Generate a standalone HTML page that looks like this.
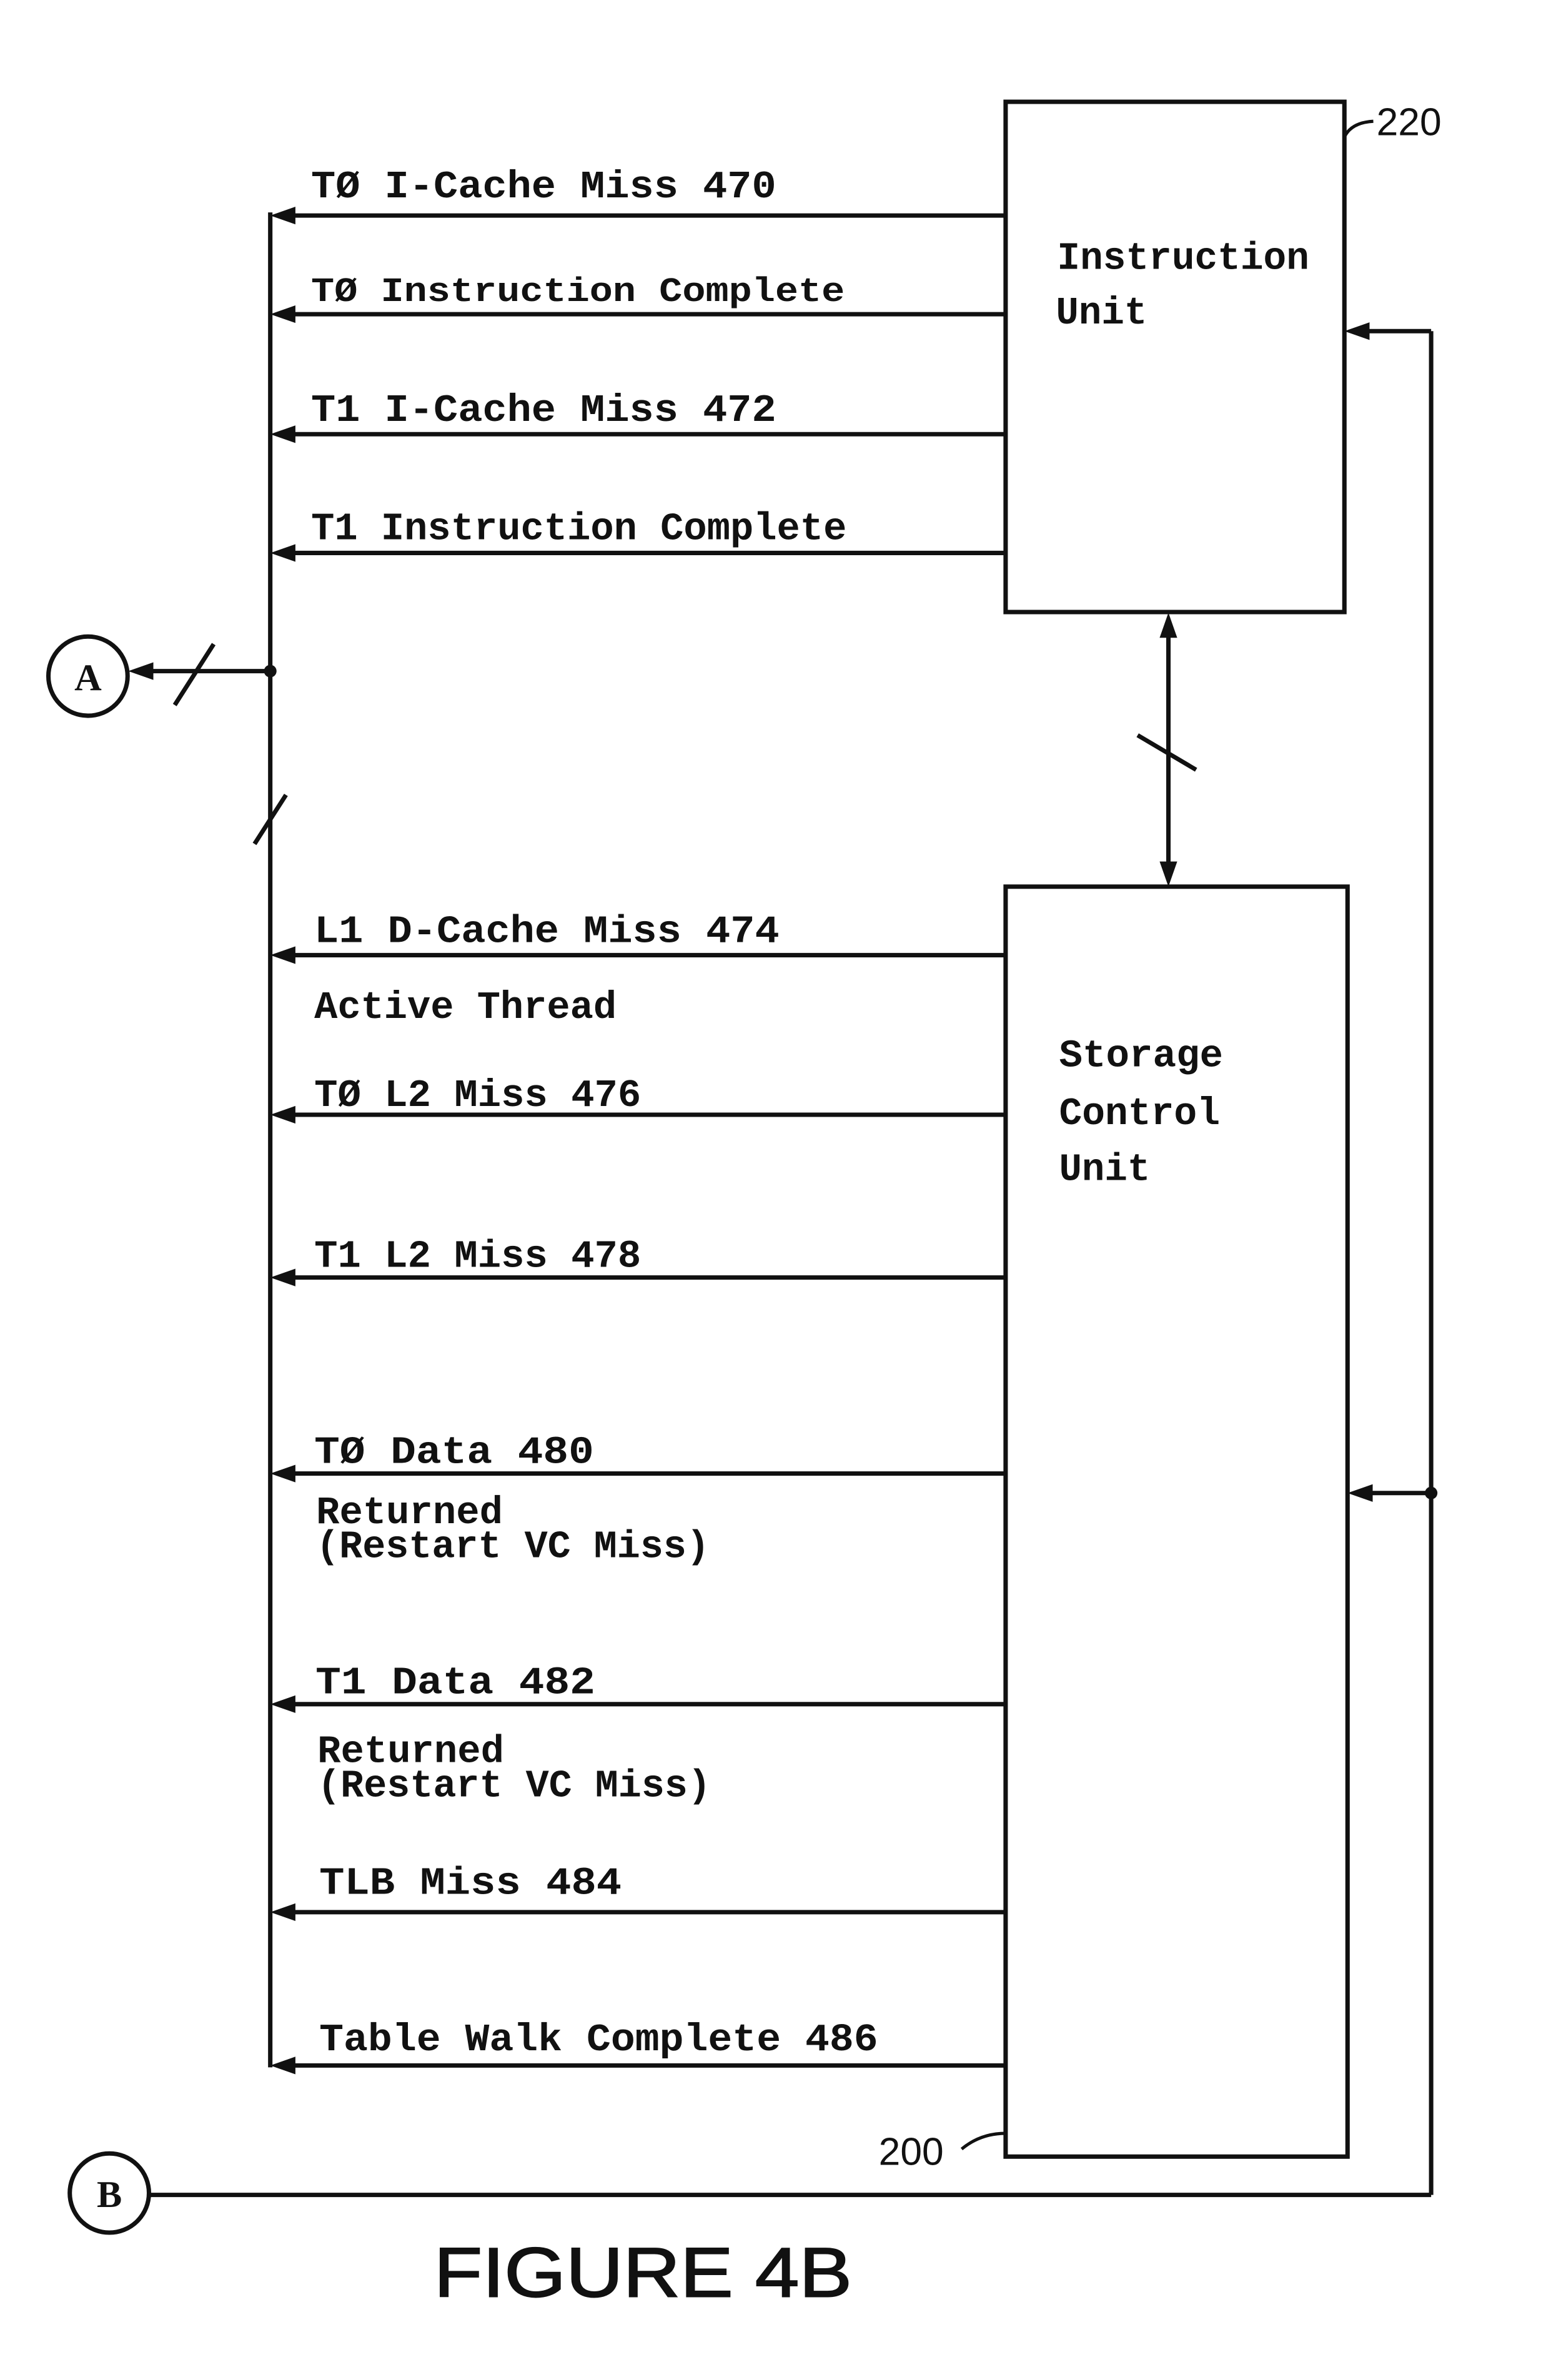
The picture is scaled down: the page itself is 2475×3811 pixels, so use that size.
<!DOCTYPE html>
<html><head><meta charset="utf-8"><style>
html,body{margin:0;padding:0;background:#fff}
svg{display:block}
text{font-family:"Liberation Mono",monospace;font-weight:bold;fill:#111}
</style></head><body>
<svg width="2475" height="3811" viewBox="0 0 2475 3811" xmlns="http://www.w3.org/2000/svg">
<g transform="scale(1.0062)">
<g stroke="#111" stroke-width="7" fill="none">
<rect x="1600" y="162" width="539" height="812"/>
<rect x="1600" y="1411" width="544" height="2021"/>
<line x1="430" y1="338" x2="430" y2="3290"/>
<line x1="468" y1="343" x2="1600" y2="343"/>
<line x1="468" y1="500" x2="1600" y2="500"/>
<line x1="468" y1="691" x2="1600" y2="691"/>
<line x1="468" y1="880" x2="1600" y2="880"/>
<line x1="468" y1="1520" x2="1600" y2="1520"/>
<line x1="468" y1="1774" x2="1600" y2="1774"/>
<line x1="468" y1="2033" x2="1600" y2="2033"/>
<line x1="468" y1="2345" x2="1600" y2="2345"/>
<line x1="468" y1="2712" x2="1600" y2="2712"/>
<line x1="468" y1="3043" x2="1600" y2="3043"/>
<line x1="468" y1="3287" x2="1600" y2="3287"/>
<circle cx="140" cy="1076" r="63"/>
<circle cx="174" cy="3490" r="63"/>
<line x1="240" y1="1068" x2="430" y2="1068"/>
<line x1="278" y1="1122" x2="340" y2="1025"/>
<line x1="405" y1="1343" x2="455" y2="1265"/>
<line x1="1859" y1="1010" x2="1859" y2="1375"/>
<line x1="1810" y1="1170" x2="1903" y2="1225"/>
<line x1="2177" y1="527" x2="2277" y2="527"/>
<line x1="2277" y1="527" x2="2277" y2="3493"/>
<line x1="2182" y1="2376" x2="2277" y2="2376"/>
<line x1="237" y1="3493" x2="2277" y2="3493"/>
<path d="M2139 218 Q2150 195 2185 193" stroke-width="5"/>
<path d="M1530 3420 Q1560 3395 1600 3395" stroke-width="5"/>
</g>
<g fill="#111">
<polygon points="430,343 470,329 470,357"/>
<polygon points="430,500 470,486 470,514"/>
<polygon points="430,691 470,677 470,705"/>
<polygon points="430,880 470,866 470,894"/>
<polygon points="430,1520 470,1506 470,1534"/>
<polygon points="430,1774 470,1760 470,1788"/>
<polygon points="430,2033 470,2019 470,2047"/>
<polygon points="430,2345 470,2331 470,2359"/>
<polygon points="430,2712 470,2698 470,2726"/>
<polygon points="430,3043 470,3029 470,3057"/>
<polygon points="430,3287 470,3273 470,3301"/>
<polygon points="204,1068 244,1054 244,1082"/>
<circle cx="430" cy="1068" r="10"/>
<polygon points="1859,975 1845,1015 1873,1015"/>
<polygon points="1859,1411 1845,1371 1873,1371"/>
<polygon points="2139,527 2179,513 2179,541"/>
<polygon points="2144,2376 2184,2362 2184,2390"/>
<circle cx="2277" cy="2376" r="10"/>
</g>
<g font-size="62">
<text x="495" y="314" textLength="740" lengthAdjust="spacingAndGlyphs">TØ I-Cache Miss  470</text>
<text x="495" y="479" font-size="54" textLength="849" lengthAdjust="spacingAndGlyphs">TØ Instruction Complete</text>
<text x="495" y="670" textLength="740" lengthAdjust="spacingAndGlyphs">T1 I-Cache Miss  472</text>
<text x="495" y="858" textLength="852" lengthAdjust="spacingAndGlyphs">T1 Instruction Complete</text>
<text x="500" y="1499" textLength="740" lengthAdjust="spacingAndGlyphs">L1 D-Cache Miss  474</text>
<text x="500" y="1620" textLength="481" lengthAdjust="spacingAndGlyphs">Active Thread</text>
<text x="500" y="1760" textLength="520" lengthAdjust="spacingAndGlyphs">TØ L2 Miss 476</text>
<text x="500" y="2016" textLength="520" lengthAdjust="spacingAndGlyphs">T1 L2 Miss 478</text>
<text x="500" y="2328" textLength="445" lengthAdjust="spacingAndGlyphs">TØ Data  480</text>
<text x="503" y="2424" textLength="297" lengthAdjust="spacingAndGlyphs">Returned</text>
<text x="503" y="2478" textLength="626" lengthAdjust="spacingAndGlyphs">(Restart VC Miss)</text>
<text x="502" y="2695" textLength="445" lengthAdjust="spacingAndGlyphs">T1 Data  482</text>
<text x="505" y="2804" textLength="297" lengthAdjust="spacingAndGlyphs">Returned</text>
<text x="505" y="2859" textLength="626" lengthAdjust="spacingAndGlyphs">(Restart VC Miss)</text>
<text x="508" y="3014" textLength="481" lengthAdjust="spacingAndGlyphs">TLB Miss  484</text>
<text x="508" y="3263" textLength="889" lengthAdjust="spacingAndGlyphs">Table Walk Complete  486</text>
<text x="1682" y="428" textLength="401" lengthAdjust="spacingAndGlyphs">Instruction</text>
<text x="1680" y="515" textLength="145" lengthAdjust="spacingAndGlyphs">Unit</text>
<text x="1685" y="1697" textLength="261" lengthAdjust="spacingAndGlyphs">Storage</text>
<text x="1685" y="1789" textLength="256" lengthAdjust="spacingAndGlyphs">Control</text>
<text x="1685" y="1878" textLength="145" lengthAdjust="spacingAndGlyphs">Unit</text>
</g>
<g font-size="62">
<text x="2190" y="215" style="font-family:'Liberation Sans',sans-serif;font-weight:normal">220</text>
<text x="1398" y="3445" style="font-family:'Liberation Sans',sans-serif;font-weight:normal">200</text>
<text x="140" y="1098" text-anchor="middle" style="font-family:'Liberation Serif',serif" font-size="60">A</text>
<text x="174" y="3512" text-anchor="middle" style="font-family:'Liberation Serif',serif" font-size="60">B</text>
<text x="1023" y="3655" text-anchor="middle" font-size="112" style="font-family:'Liberation Sans',sans-serif;font-weight:normal" stroke="#111" stroke-width="2" textLength="665" lengthAdjust="spacingAndGlyphs">FIGURE 4B</text>
</g>
</g>
</svg>
</body></html>
